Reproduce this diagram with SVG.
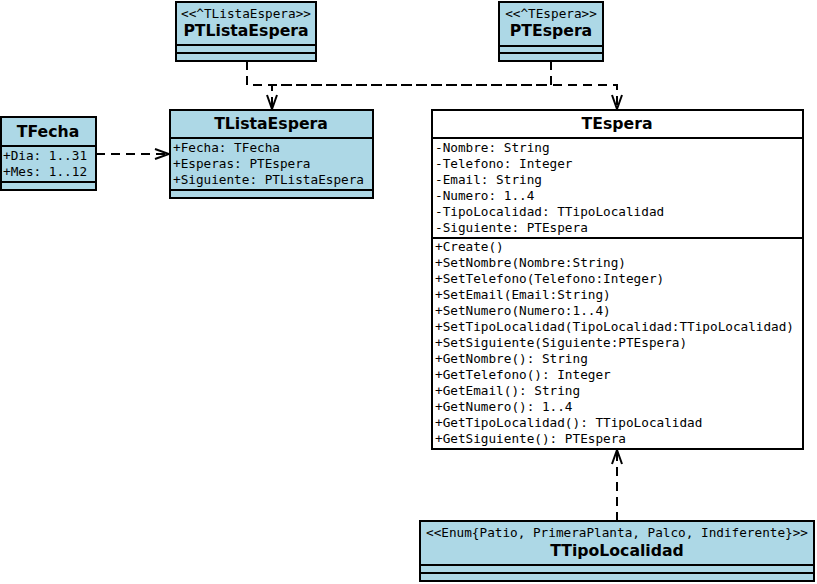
<svg xmlns="http://www.w3.org/2000/svg" width="817" height="584" viewBox="0 0 817 584">
<defs>
<style>
.box{fill:#ADD8E6;stroke:#000;stroke-width:2}
.wbox{fill:#fff;stroke:#000;stroke-width:2}
.ln{stroke:#000;stroke-width:2;fill:none}
.title{font-family:"DejaVu Sans",sans-serif;font-weight:bold;font-size:15.7px;text-anchor:middle;fill:#000}
.st{font-family:"DejaVu Sans Mono",monospace;font-size:12.7px;text-anchor:middle;fill:#000}
.m{font-family:"DejaVu Sans Mono",monospace;font-size:12.7px;fill:#000}
.dash{stroke:#000;stroke-width:2;fill:none;stroke-dasharray:9,6}
</style>
<marker id="arr" viewBox="-16 -8 18 16" refX="0" refY="0" markerWidth="18" markerHeight="16" markerUnits="userSpaceOnUse" orient="auto">
<path d="M-14,-5 L0,0 L-14,5" fill="none" stroke="#000" stroke-width="2"/>
</marker>
</defs>
<rect width="817" height="584" fill="#fff"/>

<g id="connectors">
<path class="dash" d="M247,61 V85 H617 V109" marker-end="url(#arr)"/>
<path class="dash" d="M551,61 V85 H272 V109" marker-end="url(#arr)"/>
<path class="dash" d="M96,154 H169" marker-end="url(#arr)"/>
<path class="dash" d="M617,521 V450" marker-end="url(#arr)"/>
</g>

<g id="PTListaEspera">
<rect class="box" x="176" y="2" width="140" height="59"/>
<line class="ln" x1="176" y1="45" x2="316" y2="45"/>
<line class="ln" x1="176" y1="53" x2="316" y2="53"/>
<text class="st" x="246" y="18">&lt;&lt;^TListaEspera&gt;&gt;</text>
<text class="title" x="246" y="36">PTListaEspera</text>
</g>

<g id="PTEspera">
<rect class="box" x="499" y="2" width="104" height="59"/>
<line class="ln" x1="499" y1="46" x2="603" y2="46"/>
<line class="ln" x1="499" y1="53" x2="603" y2="53"/>
<text class="st" x="551" y="18">&lt;&lt;^TEspera&gt;&gt;</text>
<text class="title" x="551" y="36">PTEspera</text>
</g>

<g id="TFecha">
<rect class="box" x="1" y="117" width="95" height="73"/>
<line class="ln" x1="1" y1="146" x2="96" y2="146"/>
<line class="ln" x1="1" y1="182" x2="96" y2="182"/>
<text class="title" x="48" y="137">TFecha</text>
<text class="m" x="3" y="160">+Dia: 1..31</text>
<text class="m" x="3" y="176">+Mes: 1..12</text>
</g>

<g id="TListaEspera">
<rect class="box" x="170" y="110" width="203" height="88"/>
<line class="ln" x1="170" y1="138" x2="373" y2="138"/>
<line class="ln" x1="170" y1="190" x2="373" y2="190"/>
<text class="title" x="271" y="129">TListaEspera</text>
<text class="m" x="173" y="152">+Fecha: TFecha</text>
<text class="m" x="173" y="168">+Esperas: PTEspera</text>
<text class="m" x="173" y="184">+Siguiente: PTListaEspera</text>
</g>

<g id="TEspera">
<rect class="wbox" x="432" y="110" width="371" height="339"/>
<line class="ln" x1="432" y1="138" x2="803" y2="138"/>
<line class="ln" x1="432" y1="238" x2="803" y2="238"/>
<text class="title" x="617" y="129">TEspera</text>
<text class="m" x="435" y="152">-Nombre: String</text>
<text class="m" x="435" y="168">-Telefono: Integer</text>
<text class="m" x="435" y="184">-Email: String</text>
<text class="m" x="435" y="200">-Numero: 1..4</text>
<text class="m" x="435" y="216">-TipoLocalidad: TTipoLocalidad</text>
<text class="m" x="435" y="232">-Siguiente: PTEspera</text>
<text class="m" x="435" y="251">+Create()</text>
<text class="m" x="435" y="267">+SetNombre(Nombre:String)</text>
<text class="m" x="435" y="283">+SetTelefono(Telefono:Integer)</text>
<text class="m" x="435" y="299">+SetEmail(Email:String)</text>
<text class="m" x="435" y="315">+SetNumero(Numero:1..4)</text>
<text class="m" x="435" y="331">+SetTipoLocalidad(TipoLocalidad:TTipoLocalidad)</text>
<text class="m" x="435" y="347">+SetSiguiente(Siguiente:PTEspera)</text>
<text class="m" x="435" y="363">+GetNombre(): String</text>
<text class="m" x="435" y="379">+GetTelefono(): Integer</text>
<text class="m" x="435" y="395">+GetEmail(): String</text>
<text class="m" x="435" y="411">+GetNumero(): 1..4</text>
<text class="m" x="435" y="427">+GetTipoLocalidad(): TTipoLocalidad</text>
<text class="m" x="435" y="443">+GetSiguiente(): PTEspera</text>
</g>

<g id="TTipoLocalidad">
<rect class="box" x="420" y="521" width="394" height="60"/>
<line class="ln" x1="420" y1="565" x2="814" y2="565"/>
<line class="ln" x1="420" y1="573" x2="814" y2="573"/>
<text class="st" x="617" y="537">&lt;&lt;Enum{Patio, PrimeraPlanta, Palco, Indiferente}&gt;&gt;</text>
<text class="title" x="617" y="556">TTipoLocalidad</text>
</g>
</svg>
